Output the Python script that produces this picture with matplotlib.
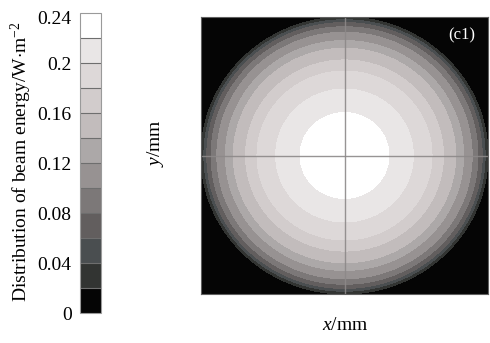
import numpy as np
import matplotlib
matplotlib.use("Agg")
import matplotlib.pyplot as plt
from matplotlib.colors import ListedColormap, BoundaryNorm

plt.rcParams["font.family"] = ["Liberation Serif", "DejaVu Serif"]
plt.rcParams["mathtext.fontset"] = "custom"
plt.rcParams["mathtext.rm"] = "Liberation Serif"
plt.rcParams["mathtext.it"] = "Liberation Serif:italic"

# Contour levels of the beam energy (W·m^-2) and colorbar ticks
levels = [0.0, 0.02, 0.04, 0.06, 0.08, 0.10, 0.12, 0.14, 0.16, 0.18, 0.20, 0.22, 0.245]
tick_values = [0, 0.04, 0.08, 0.12, 0.16, 0.2, 0.24]
tick_labels = ["0", "0.04", "0.08", "0.12", "0.16", "0.2", "0.24"]

# Radial profile: energy level reached at each normalised radius
ring_levels = [0.235, 0.22, 0.20, 0.18, 0.16, 0.14, 0.12, 0.10, 0.08, 0.06, 0.04, 0.02, 0.0]
ring_radius = [0.0, 0.31, 0.48, 0.61, 0.69, 0.775, 0.83, 0.89, 0.93, 0.96, 0.98, 1.0, 1.03]

band_colors = ["#050505", "#323432", "#4a4e50", "#625e5e", "#7c7878", "#979292",
               "#aca8a8", "#c2bcbc", "#d2cccc", "#ddd8d8", "#e9e6e6", "#ffffff"]
cmap = ListedColormap(band_colors)
norm = BoundaryNorm(levels, cmap.N)

fig = plt.figure(figsize=(4.9, 3.43), dpi=100)
ax = fig.add_axes([201 / 490, 1 - 294 / 343, 287 / 490, 277 / 343])
cax = fig.add_axes([80 / 490, 1 - 313 / 343, 21 / 490, 300 / 343])

# Beam energy field on the normalised x-y plane
g = np.linspace(-1.0, 1.0, 601)
X, Y = np.meshgrid(g, g)
R = np.hypot(X, Y)
Z = np.interp(R, ring_radius, ring_levels, right=0.0)

cs = ax.contourf(X, Y, Z, levels=levels, cmap=cmap, norm=norm)
ax.set_xlim(-1, 1)
ax.set_ylim(-1, 1)
ax.set_xticks([])
ax.set_yticks([])
for sp in ax.spines.values():
    sp.set_color("#606060")
    sp.set_linewidth(0.8)

# Centre crosshair
ax.axhline(0, color="#8c8888", lw=1.0, alpha=0.9)
ax.axvline(0, color="#8c8888", lw=1.0, alpha=0.9)

ax.text(0.955, 0.935, "(c1)", transform=ax.transAxes, color="white",
        ha="right", va="center", fontsize=12)

fig.text(345 / 490, 1 - 325 / 343, r"$x$/mm", ha="center", va="center", fontsize=14)
fig.text(156 / 490, 1 - 143 / 343, r"$y$/mm", rotation=90,
         ha="center", va="center", fontsize=14)

cb = fig.colorbar(cs, cax=cax, ticks=tick_values)
cb.ax.set_yticklabels(tick_labels)
cb.ax.yaxis.set_ticks_position("left")
cb.ax.minorticks_off()
cb.ax.tick_params(length=0, labelsize=14, pad=6)
cb.outline.set_edgecolor("#9a9a9a")
cb.outline.set_linewidth(0.8)
for lv in levels[1:-1]:
    cb.ax.axhline(lv, color="#6e6e6e", lw=0.8)

fig.text(21 / 490, 1 - 162 / 343, r"Distribution of beam energy/W$\cdot$m$^{-2}$",
         rotation=90, ha="center", va="center", fontsize=14)

fig.savefig("out.png", dpi=100)
